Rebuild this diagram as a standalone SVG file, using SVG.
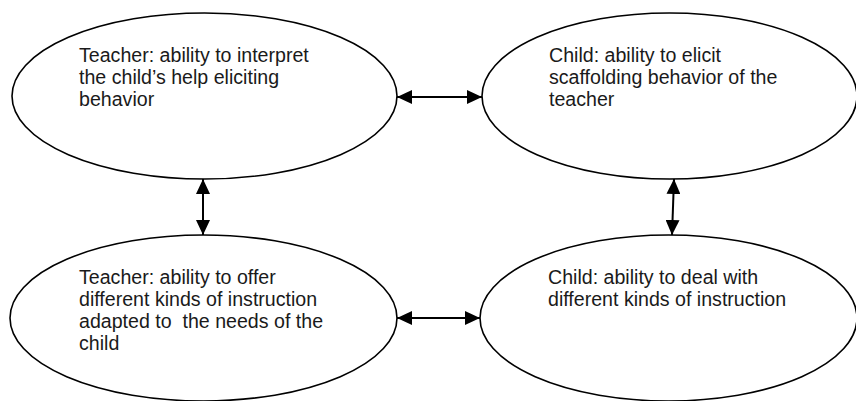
<svg xmlns="http://www.w3.org/2000/svg" width="856" height="401" viewBox="0 0 856 401">
<style>
.node ellipse{fill:#fff;stroke:#000;stroke-width:1.6}
.node text{font-family:"Liberation Sans",Arial,sans-serif;font-size:19.6px;fill:#1a1a1a}
.conn line{stroke:#000;stroke-width:2;marker-start:url(#ah);marker-end:url(#ah)}
</style>
<defs>
<marker id="ah" markerUnits="userSpaceOnUse" markerWidth="15" markerHeight="14" refX="15" refY="7" orient="auto-start-reverse">
<path d="M0,0 L15,7 L0,14 z" fill="#000"/>
</marker>
</defs>
<rect width="856" height="401" fill="#fff"/>
<g id="teacher-interpret" class="node">
<ellipse cx="204.5" cy="96" rx="192.5" ry="83"/>
<text x="79" y="62">Teacher: ability to interpret</text>
<text x="79" y="84">the child’s help eliciting</text>
<text x="79" y="106">behavior</text>
</g>
<g id="child-elicit" class="node">
<ellipse cx="669.5" cy="96" rx="187.5" ry="83"/>
<text x="549" y="62">Child: ability to elicit</text>
<text x="549" y="84">scaffolding behavior of the</text>
<text x="549" y="106">teacher</text>
</g>
<g id="teacher-offer" class="node">
<ellipse cx="203.5" cy="318" rx="193.5" ry="83"/>
<text x="79" y="284">Teacher: ability to offer</text>
<text x="79" y="306">different kinds of instruction</text>
<text x="79" y="328" xml:space="preserve">adapted to  the needs of the</text>
<text x="79" y="350">child</text>
</g>
<g id="child-deal" class="node">
<ellipse cx="668.5" cy="318" rx="188.5" ry="83"/>
<text x="548" y="284">Child: ability to deal with</text>
<text x="548" y="306">different kinds of instruction</text>
</g>
<g id="connectors" class="conn">
<line x1="397" y1="97" x2="482" y2="97"/>
<line x1="397" y1="318" x2="480" y2="318"/>
<line x1="203" y1="179" x2="203" y2="235"/>
<line x1="674" y1="179" x2="672" y2="235"/>
</g>
</svg>
